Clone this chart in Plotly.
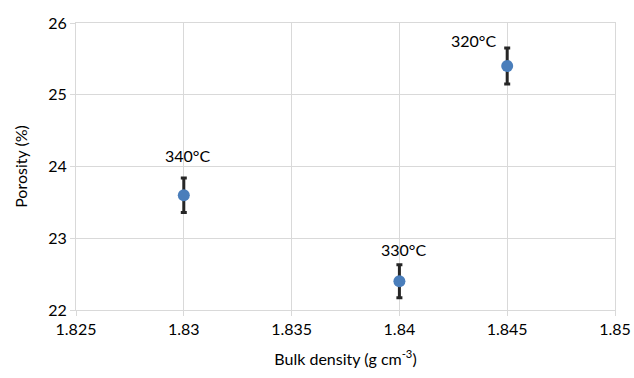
import plotly.graph_objects as go

density = [1.83, 1.84, 1.845]
porosity = [23.6, 22.4, 25.4]
err = [0.24, 0.23, 0.25]
labels = ["340°C", "330°C", "320°C"]
label_xshift = [4, 4, -34]
label_yshift = [22, 15, 8]

x_ticks = [1.825, 1.83, 1.835, 1.84, 1.845, 1.85]
x_ticktext = ["1.825", "1.83", "1.835", "1.84", "1.845", "1.85"]
y_ticks = [22, 23, 24, 25, 26]

font = "Lato, 'Open Sans', sans-serif"
grid = "#D9D9D9"

fig = go.Figure()
fig.add_trace(go.Scatter(
    x=density, y=porosity, mode="markers",
    marker=dict(size=12, color="#4A7EBB"),
    error_y=dict(type="data", array=err, visible=True, color="#262626", thickness=3, width=3),
    showlegend=False, hoverinfo="skip",
))

for x, y, e, t, dx, dy in zip(density, porosity, err, labels, label_xshift, label_yshift):
    fig.add_annotation(x=x, y=y + e, text=t, showarrow=False, xshift=dx,
                       yshift=dy, font=dict(family=font, size=16, color="#000000"))

fig.update_layout(
    width=634, height=378,
    margin=dict(l=76, r=19, t=23, b=68),
    paper_bgcolor="white", plot_bgcolor="white",
    font=dict(family=font, size=16, color="#000000"),
    xaxis=dict(range=[1.825, 1.85], tickvals=x_ticks, ticktext=x_ticktext, automargin=False,
               showgrid=True, gridcolor=grid, gridwidth=1,
               showline=True, linecolor=grid, mirror=True, zeroline=False,
               ticks="outside", ticklen=5, tickcolor=grid, tickfont=dict(size=16),
               title=dict(text="Bulk density (g cm<sup>-3</sup>)", standoff=16,
                          font=dict(family=font, size=16))),
    yaxis=dict(range=[22, 26], tickvals=y_ticks, automargin=False,
               showgrid=True, gridcolor=grid, gridwidth=1,
               showline=True, linecolor=grid, mirror=True, zeroline=False,
               ticks="outside", ticklen=5, tickcolor=grid, tickfont=dict(size=16),
               title=dict(text="Porosity (%)", standoff=16,
                          font=dict(family=font, size=16))),
)

fig.write_html(
    "out.html",
    config={"displayModeBar": False},
    post_script="document.body.style.margin='0';document.body.style.overflow='hidden';",
)
